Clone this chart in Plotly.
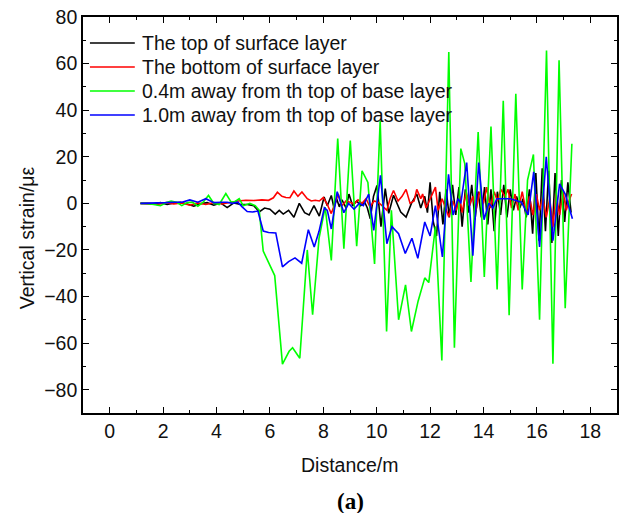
import plotly.graph_objects as go

# Vertical strain (με) along the section, four measuring depths

top_x = [1.15, 1.4, 1.65, 1.9, 2.15, 2.4, 2.65, 2.9, 3.15, 3.4,
         3.65, 3.9, 4.15, 4.4, 4.65, 4.9, 5.15, 5.4, 5.6, 5.8,
         6.0, 6.2, 6.35, 6.5, 6.7, 6.9, 7.1, 7.3, 7.47, 7.65,
         7.85, 8.03, 8.15, 8.3, 8.4, 8.5, 8.6, 8.7, 8.85, 8.96,
         9.1, 9.25, 9.4, 9.55, 9.65, 9.76, 9.88, 10.01, 10.16, 10.32,
         10.45, 10.63, 10.78, 10.9, 11.1, 11.3, 11.5, 11.65, 11.8, 11.9,
         12.0, 12.12, 12.24, 12.36, 12.48, 12.6, 12.72, 12.84, 12.96, 13.08,
         13.2, 13.32, 13.44, 13.56, 13.68, 13.8, 13.92, 14.04, 14.16, 14.28,
         14.4, 14.52, 14.64, 14.76, 14.88, 15.0, 15.12, 15.24, 15.36, 15.48,
         15.6, 15.72, 15.84, 15.96, 16.08, 16.2, 16.32, 16.44, 16.56, 16.68,
         16.8, 16.92, 17.04, 17.16, 17.28]
top_y = [0, 0, -0.3, 0.3, -0.5, 0.2, 0.5, -0.3, -1.2, -0.2,
         0.3, -0.8, 0.2, -1.8, 0.2, -0.5, -0.5, -1, -3.7, -2,
         -2.5, -4.6, -3, -4.6, -3, -6, 0, -4, -5, -1,
         -5.5, 2.7, -1, 3.4, -2, 2, -1.5, 1.5, -2, 4,
         -1, 1, -1, 0.5, -2, -6.6, 3, 7.7, -10, 6.3,
         -4.3, 3.5, -1, -3.7, -5.9, 0, 4, -2, 3, -4,
         9, -8, -14, 5, -9, 6, -6, 8, -5, 7,
         -10, 6, -4, 8, -7, 5, -6, 7, -9, 6,
         -12, 5, -5, 8, -6, 6, -3, 3, -2, 2,
         -6, 6, -13, 13, -16, 15, -12, 14, -17, 13,
         -14, 10, -8, 9, -4]

bottom_x = [1.15, 1.5, 1.8, 2.1, 2.4, 2.7, 3.0, 3.3, 3.6, 3.9,
            4.2, 4.5, 4.8, 5.1, 5.4, 5.7, 5.95, 6.13, 6.28, 6.45,
            6.6, 6.75, 6.9, 7.05, 7.2, 7.4, 7.55, 7.7, 7.85, 8.0,
            8.15, 8.3, 8.45, 8.56, 8.7, 8.85, 9.0, 9.15, 9.3, 9.45,
            9.6, 9.75, 9.9, 10.05, 10.2, 10.38, 10.5, 10.63, 10.8, 10.95,
            11.1, 11.25, 11.4, 11.5, 11.65, 11.72, 11.85, 12.0, 12.2, 12.3,
            12.45, 12.58, 12.7, 12.85, 12.98, 13.1, 13.2, 13.35, 13.48, 13.6,
            13.72, 13.85, 14.0, 14.12, 14.25, 14.4, 14.52, 14.65, 14.8, 14.92,
            15.05, 15.18, 15.3, 15.45, 15.6, 15.72, 15.85, 15.98, 16.1, 16.22,
            16.35, 16.48, 16.6, 16.72, 16.85, 16.98, 17.1, 17.2, 17.3]
bottom_y = [0, 0, -0.5, 0.3, -0.3, 0.2, -0.8, 0.2, -0.5, 0.3,
            -0.3, 0.5, 1, 1.3, 1.2, 1.5, 1.3, 2.4, 4.8, 3,
            2.5, 2.4, 5.3, 3, 4.9, 2, 1, 1.3, 1, 2.5,
            -0.5, -4.4, 0, 4, -1, 1, 0.5, -0.3, 1.5, 0,
            2, -1.5, 1, 0.5, -1, -3, 2, 5.5, 1, 3,
            6, 0, 1, 6, 2, 4, -2, 2, 7, -3,
            2, -2, -5.9, 1, -3, 3, -4, 5, -1, 3,
            -3, 5, 0, 7, -2, 5, 1, 6, 3, 6,
            -2, 4, -3, 5, -4, 3, -5, 4, -3, 3,
            -6, 2, -10, 4, -5, 5, -3, 1, 4]

base04_x = [1.15, 1.4, 1.65, 1.9, 2.15, 2.3, 2.5, 2.7, 2.9, 3.1,
            3.3, 3.5, 3.7, 3.9, 4.1, 4.35, 4.55, 4.7, 4.85, 5.0,
            5.25, 5.45, 5.6, 5.75, 6.18, 6.47, 6.72, 6.85, 7.12, 7.4,
            7.6, 7.84, 8.07, 8.3, 8.54, 8.77, 9.01, 9.25, 9.45, 9.67,
            9.92, 10.13, 10.37, 10.55, 10.82, 11.08, 11.3, 11.55, 11.8, 11.95,
            12.2, 12.44, 12.7, 12.91, 13.15, 13.3, 13.53, 13.8, 14.03, 14.28,
            14.51, 14.74, 14.96, 15.21, 15.45, 15.65, 15.87, 16.1, 16.36, 16.6,
            16.83, 17.06, 17.31]
base04_y = [0, 0, -0.5, -1, 0.5, 1, 0.5, -1, 0.3, 0.5,
            -1.2, 0.5, 3.4, 0, -0.5, 4.2, 0.5, 0.8, 2, -1,
            0, -1, -3, -20.5, -31, -69, -63.5, -62, -66.5, -20,
            -47.8, -15, -1.6, -24.5, 27.8, -19.5, 27, -18.4, 14, 9,
            -26, 35.6, -55, -3, -50, -35, -55, -42, -32, -34,
            -10, -67.4, 65, -62, 23.5, 17, -33.7, 30.6, -31.6, 33,
            -37, 44, -48, 47, -37, 10, 21, -50, 65.6, -68.8,
            61.4, -45, 25.6]

base10_x = [1.15, 1.5, 1.8, 2.1, 2.4, 2.7, 3.0, 3.3, 3.6, 3.9,
            4.2, 4.4, 4.6, 4.8, 4.96, 5.15, 5.35, 5.55, 5.75, 5.95,
            6.22, 6.47, 6.7, 6.94, 7.19, 7.44, 7.66, 7.84, 8.04, 8.15,
            8.3, 8.52, 8.77, 8.95, 9.15, 9.35, 9.5, 9.7, 9.89, 10.14,
            10.38, 10.57, 10.82, 11.07, 11.32, 11.54, 11.8, 12.0, 12.2, 12.46,
            12.69, 12.86, 13.05, 13.15, 13.37, 13.6, 13.82, 14.02, 14.2, 14.35,
            14.5, 15.0, 15.42, 15.67, 15.88, 16.1, 16.35, 16.6, 16.85, 17.06,
            17.33]
base10_y = [0, 0, 0, 0.3, 0.5, 0.5, 1.5, 0.5, 2, 0.3,
            0.5, 0.5, 0, 0.5, -1.5, -3.5, -3.7, -3.3, -11.9, -12.5,
            -12.7, -27.3, -25, -23.4, -25.7, -11.3, -18.7, -12, -1.9, -3,
            -11, 5, -4, 0, -2.5, 0, -1, 4, -11.6, 12,
            -17.3, -10, -13, -21.5, -15, -23.6, -8, -14, -1, -23,
            12.5, -5, 2, 0, 17.5, -22.5, 17.5, -7, 0, -2,
            2, 2, 0.5, -5, 13.5, -18.7, 20, -16, 8.4, 4,
            -6.6]

series = [
    ("The top of surface layer", top_x, top_y, "#000000"),
    ("The bottom of surface layer", bottom_x, bottom_y, "#ff0000"),
    ("0.4m away from th top of base layer", base04_x, base04_y, "#00ff00"),
    ("1.0m away from th top of base layer", base10_x, base10_y, "#0000ff"),
]

FONT = "Liberation Sans, Arial, sans-serif"
TEXT = "#111111"

fig = go.Figure()
for name, xs, ys, color in series:
    fig.add_trace(go.Scatter(x=xs, y=ys, mode="lines", name=name,
                             line=dict(color=color, width=1.6),
                             showlegend=False))

# Key in the upper-left corner: a short line sample and the series name per row
key_rows = [0.9343, 0.8737, 0.8131, 0.7525]
for (name, _, _, color), ky in zip(series, key_rows):
    fig.add_shape(type="line", xref="paper", yref="paper",
                  x0=0.013, x1=0.097, y0=ky, y1=ky,
                  line=dict(color=color, width=1.6))
    fig.add_annotation(text=name, xref="paper", yref="paper",
                       x=0.1063, y=ky, xanchor="left", yanchor="middle",
                       showarrow=False,
                       font=dict(family=FONT, size=19.5, color=TEXT))

axis_common = dict(
    showline=True, linecolor="#000000", linewidth=1.6, mirror="allticks",
    ticks="inside", ticklen=6, tickwidth=1.4, tickcolor="#000000",
    showgrid=False, zeroline=False,
    tickfont=dict(family=FONT, size=19.5, color=TEXT),
)

fig.update_xaxes(range=[-1, 19], tick0=0, dtick=2,
                 minor=dict(dtick=1, ticks="inside", ticklen=3, tickwidth=1.4,
                            tickcolor="#000000", showgrid=False),
                 **axis_common)
fig.update_yaxes(range=[-90, 80], tick0=0, dtick=20,
                 minor=dict(dtick=10, ticks="inside", ticklen=3, tickwidth=1.4,
                            tickcolor="#000000", showgrid=False),
                 **axis_common)

fig.add_annotation(text="Vertical strain/με", xref="paper", yref="paper",
                   x=-0.1045, y=0.442, xanchor="center", yanchor="middle",
                   textangle=-90, showarrow=False,
                   font=dict(family=FONT, size=19.5, color=TEXT))
fig.add_annotation(text="Distance/m", xref="paper", yref="paper",
                   x=0.5, y=-0.131, xanchor="center", yanchor="middle",
                   showarrow=False,
                   font=dict(family=FONT, size=19.5, color=TEXT))
fig.add_annotation(text="<b>(a)</b>", xref="paper", yref="paper",
                   x=0.5, y=-0.2247, xanchor="center", yanchor="middle",
                   showarrow=False,
                   font=dict(family="Liberation Serif, Times New Roman, serif",
                             size=23, color="#000000"))

fig.update_layout(
    width=620, height=513,
    margin=dict(l=83, r=1, t=17, b=100),
    paper_bgcolor="#ffffff", plot_bgcolor="#ffffff",
    showlegend=False,
)

fig.write_html("out.html")
